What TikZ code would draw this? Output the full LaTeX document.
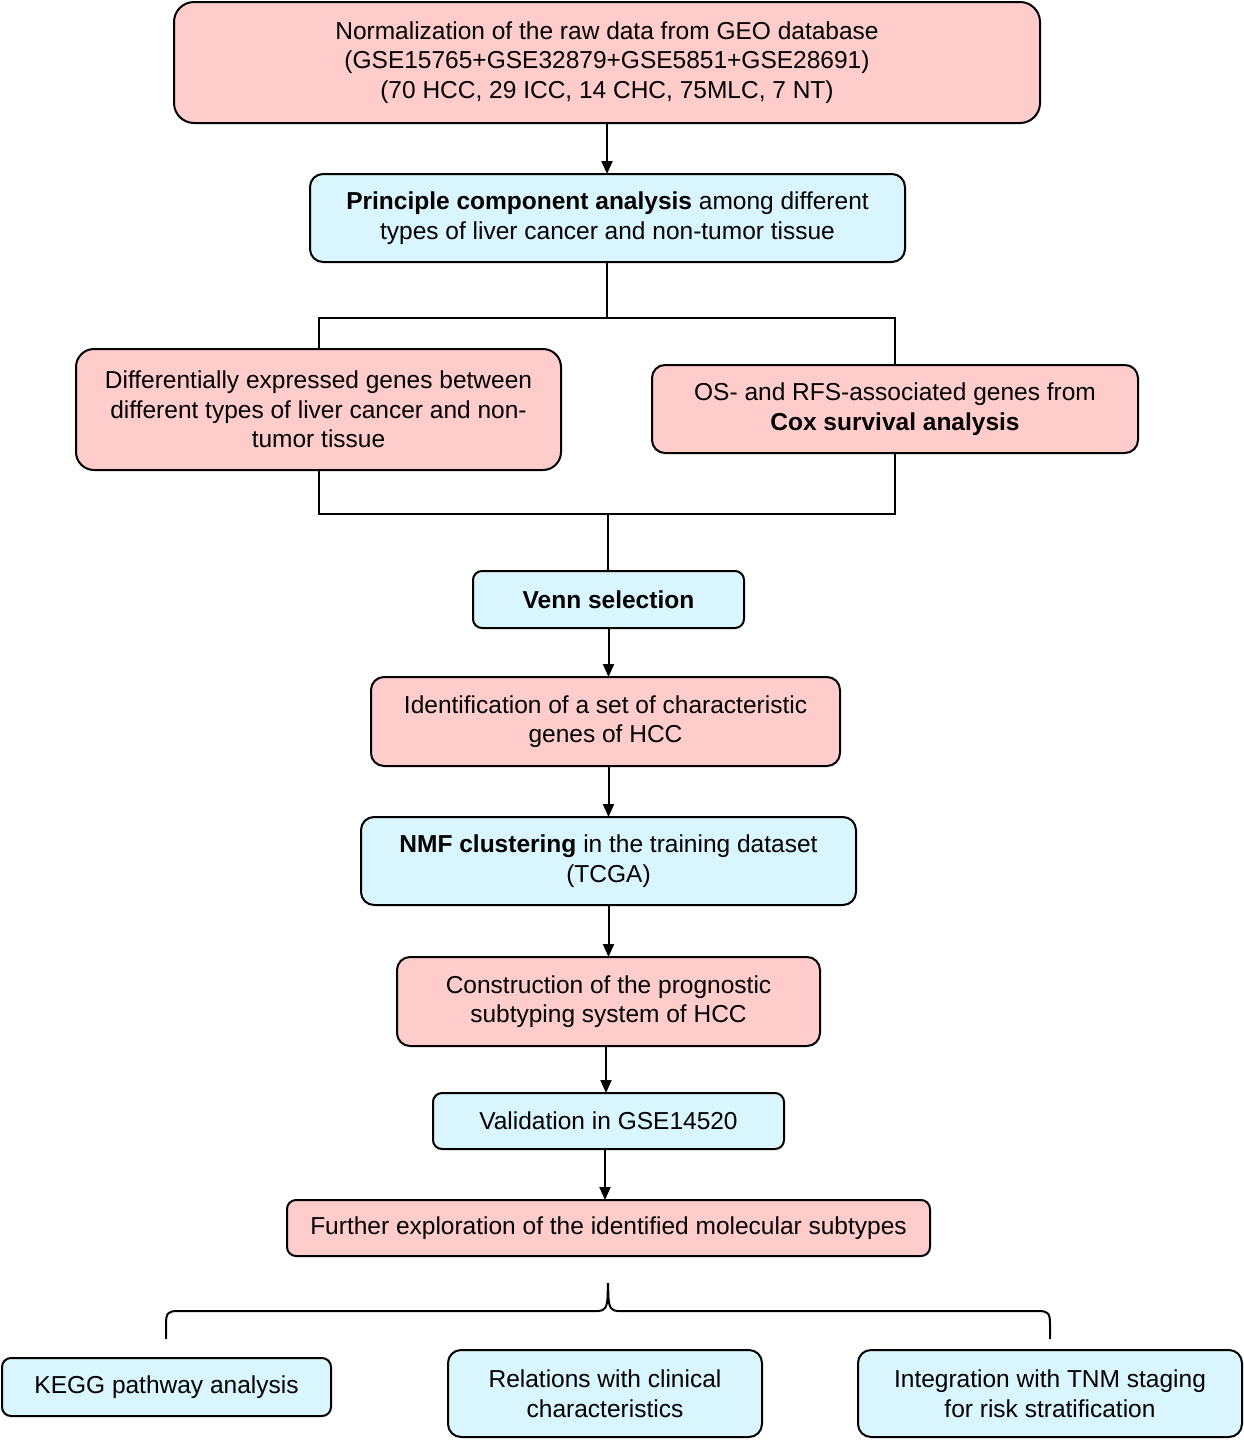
\documentclass[tikz,border=0pt]{standalone}
\usepackage{fontspec}
\setmainfont{Liberation Sans}
\usetikzlibrary{arrows.meta}
\definecolor{pinkbox}{RGB}{255,204,204}
\definecolor{bluebox}{RGB}{217,245,253}
\begin{document}
\begin{tikzpicture}[x=1pt,y=-1pt,
  every node/.style={font=\fontsize{24.5}{29.5}\selectfont},
  box/.style={draw=black,line width=2pt,rounded corners=#1,align=center,inner sep=0pt,outer sep=0pt},
  box/.default=13pt,
  pbox/.style={box=#1,fill=pinkbox},
  pbox/.default=13pt,
  bbox/.style={box=#1,fill=bluebox},
  bbox/.default=13pt,
  line/.style={line width=2pt,draw=black},
  arr/.style={line,-{Triangle[length=13pt,width=11pt]}}]
\useasboundingbox (0,0) rectangle (1244,1440);
\node[pbox=20pt,minimum width=866pt,minimum height=121pt] (b1) at (607,62.5)
  {Normalization of the raw data from GEO database\\(GSE15765+GSE32879+GSE5851+GSE28691)\\(70 HCC, 29 ICC, 14 CHC, 75MLC, 7 NT)};
\node[bbox,minimum width=595pt,minimum height=88pt] (b2) at (607.5,218)
  {\textbf{Principle component analysis} among different\\types of liver cancer and non-tumor tissue};
\node[pbox=18pt,minimum width=485pt,minimum height=121pt] (b3) at (318.5,409.5)
  {Differentially expressed genes between\\different types of liver cancer and non-\\tumor tissue};
\node[pbox,minimum width=486pt,minimum height=88pt] (b4) at (895,409)
  {OS- and RFS-associated genes from\\\textbf{Cox survival analysis}};
\node[bbox=9pt,minimum width=271pt,minimum height=57pt] (b5) at (608.5,599.5)
  {\textbf{Venn selection}};
\node[pbox,minimum width=469pt,minimum height=89pt] (b6) at (605.5,721.5)
  {Identification of a set of characteristic\\genes of HCC};
\node[bbox,minimum width=495pt,minimum height=88pt] (b7) at (608.5,861)
  {\textbf{NMF clustering} in the training dataset\\(TCGA)};
\node[pbox,minimum width=423pt,minimum height=89pt] (b8) at (608.5,1001.5)
  {Construction of the prognostic\\subtyping system of HCC};
\node[bbox=9pt,minimum width=351pt,minimum height=56pt] (b9) at (608.5,1121)
  {Validation in GSE14520};
\node[pbox=9pt,minimum width=643pt,minimum height=56pt] (b10) at (608.5,1228)
  {Further exploration of the identified molecular subtypes};
\node[bbox=9pt,minimum width=329pt,minimum height=58pt] (b11) at (166.5,1387)
  {KEGG pathway analysis};
\node[bbox,minimum width=314pt,minimum height=87pt] (b12) at (605,1393.5)
  {Relations with clinical\\characteristics};
\node[bbox,minimum width=384pt,minimum height=87pt] (b13) at (1050,1393.5)
  {Integration with TNM staging\\for risk stratification};
% connectors
\draw[arr] (b1.south) -- (b1.south |- b2.north);
\coordinate (j1) at (607,318);
\draw[line] (b2.south -| j1) -- (j1);
\draw[line] (b3.north) |- (j1) -| (b4.north);
\coordinate (j2) at (608,514);
\draw[line] (b3.south) |- (j2) -| (b4.south);
\draw[line] (j2) -- (j2 |- b5.north);
\draw[arr] (b5.south) -- (b5.south |- b6.north);
\draw[arr] (b6.south -| b5.south) -- (b5.south |- b7.north);
\draw[arr] (b7.south) -- (b7.south |- b8.north);
\coordinate (a9) at (606,1093);
\draw[arr] (b8.south -| a9) -- (a9);
\coordinate (a10) at (605,1200);
\draw[arr] (b9.south -| a10) -- (a10);
% brace
\coordinate (bt) at (608,1283);
\coordinate (bl) at (166,1339);
\coordinate (br) at (1050,1339);
\draw[line,line join=round] (bl) -- (166,1324) .. controls (166,1313) and (168,1311) .. (178,1311)
  -- (598,1311) .. controls (604,1311) and (607,1308) .. (607.5,1298) -- (bt);
\draw[line,line join=round] (br) -- (1050,1324) .. controls (1050,1313) and (1048,1311) .. (1038,1311)
  -- (618,1311) .. controls (612,1311) and (609,1308) .. (608.5,1298) -- (bt);
\end{tikzpicture}
\end{document}
